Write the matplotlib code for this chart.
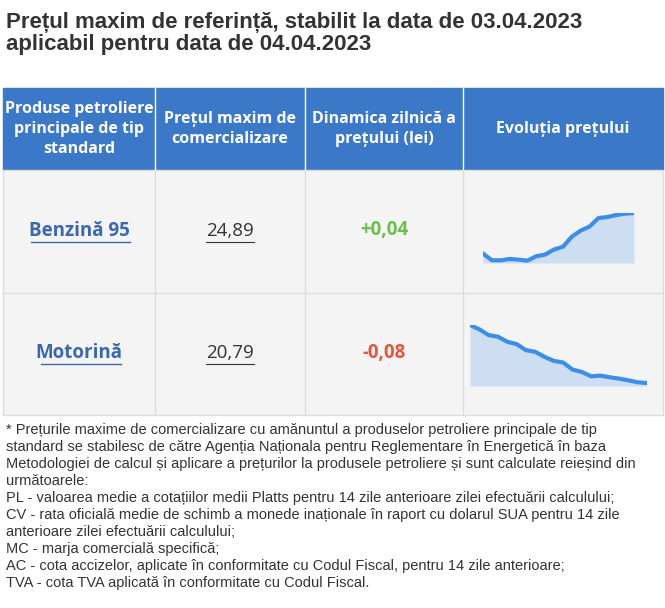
import matplotlib
matplotlib.use("Agg")
import matplotlib.pyplot as plt
from matplotlib.patches import Rectangle

W, H = 665, 608
title = "Prețul maxim de referință, stabilit la data de 03.04.2023\naplicabil pentru data de 04.04.2023"
headers = ["Produse petroliere\nprincipale de tip\nstandard", "Prețul maxim de\ncomercializare",
           "Dinamica zilnică a\nprețului (lei)", "Evoluția prețului"]
products = ["Benzină 95", "Motorină"]
prices = ["24,89", "20,79"]
changes = ["+0,04", "-0,08"]
# sparkline values (relative heights)
benz = [28, 8, 8, 12, 10, 7, 20, 25, 40, 48, 78, 96, 108, 133, 136, 142, 146, 148]
moto = [182, 169, 152, 147, 132, 125, 107, 102, 87, 75, 70, 49, 42, 29, 31, 26, 22, 17, 11, 9]
footnote = ("* Prețurile maxime de comercializare cu amănuntul a produselor petroliere principale de tip\n"
            "standard se stabilesc de către Agenția Naționala pentru Reglementare în Energetică în baza\n"
            "Metodologiei de calcul și aplicare a prețurilor la produsele petroliere și sunt calculate reieșind din\n"
            "următoarele:\n"
            "PL - valoarea medie a cotațiilor medii Platts pentru 14 zile anterioare zilei efectuării calculului;\n"
            "CV - rata oficială medie de schimb a monede inaționale în raport cu dolarul SUA pentru 14 zile\n"
            "anterioare zilei efectuării calculului;\n"
            "MC - marja comercială specifică;\n"
            "AC - cota accizelor, aplicate în conformitate cu Codul Fiscal, pentru 14 zile anterioare;\n"
            "TVA - cota TVA aplicată în conformitate cu Codul Fiscal.")

plt.rcParams['font.family'] = ['Liberation Sans', 'DejaVu Sans']
fig = plt.figure(figsize=(W / 100, H / 100), dpi=100)
ax = fig.add_axes([0, 0, 1, 1])
ax.set_xlim(0, W)
ax.set_ylim(H, 0)
ax.axis("off")

ax.text(6, 12, title, fontsize=16, fontweight="bold", color="#333333", va="top", linespacing=1.05)

cols = [3, 155, 305, 463, 663]
blue = "#3b78c8"
ax.add_patch(Rectangle((cols[0], 88), cols[-1] - cols[0], 82, color=blue))
for i, h in enumerate(headers):
    xc = (cols[i] + cols[i + 1]) / 2
    ax.text(xc, 129, h, color="white", fontsize=11.5, fontweight="bold", ha="center", va="center",
            family=["Open Sans", "DejaVu Sans"], linespacing=1.3)
for c in cols[1:-1]:
    ax.plot([c, c], [88, 170], color="white", lw=1)

rows = [170, 293, 415]
ax.add_patch(Rectangle((cols[0], rows[0]), cols[-1] - cols[0], rows[-1] - rows[0],
                       facecolor="#f4f4f4", edgecolor="#dddddd", lw=1))
ax.plot([cols[0], cols[-1]], [rows[1], rows[1]], color="#dddddd", lw=1)
for c in cols[1:-1]:
    ax.plot([c, c], [rows[0], rows[-1]], color="#dddddd", lw=1)

for i in range(2):
    yc = (rows[i] + rows[i + 1]) / 2 - 1
    ax.text((cols[0] + cols[1]) / 2, yc, products[i], fontsize=13.5, fontweight="bold", color="#3a67b0",
            ha="center", va="center", family=["Open Sans", "DejaVu Sans"])
    ax.text((cols[1] + cols[2]) / 2, yc, prices[i], fontsize=13.5, color="#333333",
            ha="center", va="center", family=["Open Sans", "DejaVu Sans"])
    ax.text((cols[2] + cols[3]) / 2, yc, changes[i], fontsize=13.5, fontweight="bold",
            color="#6cc04a" if changes[i].startswith("+") else "#e8553e",
            ha="center", va="center", family=["Open Sans", "DejaVu Sans"])

# underline for product names and prices
for i, (x0, x1) in enumerate([(31, 130), (41, 121)]):
    yc = (rows[i] + rows[i + 1]) / 2 + 10
    ax.plot([x0, x1], [yc, yc], color="#3a67b0", lw=1)
for i, (x0, x1) in enumerate([(206, 254), (206, 254)]):
    yc = (rows[i] + rows[i + 1]) / 2 + 10
    ax.plot([x0, x1], [yc, yc], color="#333333", lw=0.8)

def spark(x0, x1, ybase, ytop, vals):
    a = fig.add_axes([x0 / W, 1 - ybase / H, (x1 - x0) / W, (ybase - ytop) / H])
    xs = list(range(len(vals)))
    a.fill_between(xs, vals, 0, color="#b3cff2", alpha=0.6, lw=0)
    a.plot(xs, vals, color="#3d8ee8", lw=3, solid_capstyle="round")
    a.set_xlim(0, len(vals) - 1)
    a.set_ylim(0, max(vals))
    a.axis("off")

spark(483, 634, 263, 213, benz)
spark(470, 647, 386, 325, moto)

ax.text(6, 423, footnote, fontsize=10.5, color="#333333", va="top", linespacing=1.27)

fig.savefig("out.png", dpi=100)
